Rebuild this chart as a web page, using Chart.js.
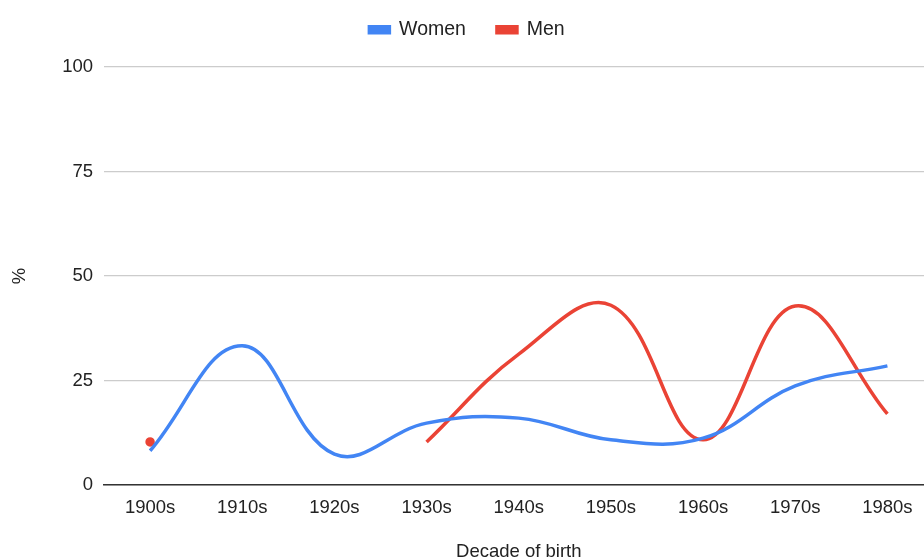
<!DOCTYPE html>
<html>
<head>
<meta charset="utf-8">
<script src="https://cdn.jsdelivr.net/npm/chart.js@4"></script>
<style>
  body { margin: 0; overflow: hidden; background: #fff; }
  #wrap { width: 940px; height: 578px; }
</style>
</head>
<body>
<div id="wrap"><canvas id="chart"></canvas></div>
<script>
// decades of birth
const decades = ["1900s", "1910s", "1920s", "1930s", "1940s", "1950s", "1960s", "1970s", "1980s"];
// share in %
const women = [8.2, 33.3, 7.4, 14.8, 16, 10.8, 11.2, 23.7, 28.5];
const men = [10.3, null, null, 10.3, 31.3, 43, 10.8, 42.8, 17];
const yTicks = [0, 25, 50, 75, 100];

const FONT = "'Liberation Sans', Arial, sans-serif";

// show a dot only where a point has no neighbours to join
function lonePoint(arr) {
  return arr.map((v, i) => (v !== null && arr[i - 1] == null && arr[i + 1] == null) ? 3 : 0);
}

// fixed legend height so the plot starts where the original does
const legendHeight = {
  id: "legendHeight",
  beforeLayout(chart) {
    const lg = chart.legend;
    if (lg && !lg._fixed) {
      const fit = lg.fit;
      lg.fit = function () { fit.call(this); this.height = 78; };
      lg._fixed = true;
    }
  }
};

const ctx = document.getElementById("chart").getContext("2d");
new Chart(ctx, {
  type: "line",
  data: {
    labels: decades,
    datasets: [
      {
        label: "Women",
        data: women,
        borderColor: "#4285F4",
        backgroundColor: "#4285F4",
        borderWidth: 3.5,
        tension: 0.4,
        pointRadius: lonePoint(women),
        pointHoverRadius: 0
      },
      {
        label: "Men",
        data: men,
        borderColor: "#EA4335",
        backgroundColor: "#EA4335",
        borderWidth: 3.5,
        tension: 0.4,
        pointRadius: lonePoint(men),
        pointHoverRadius: 0
      }
    ]
  },
  options: {
    responsive: true,
    maintainAspectRatio: false,
    animation: false,
    layout: { padding: { top: -11, right: 6 } },
    plugins: {
      tooltip: { enabled: false },
      legend: {
        position: "top",
        labels: {
          boxWidth: 20,
          boxHeight: 6,
          padding: 31,
          color: "#222",
          font: { family: FONT, size: 19.5 }
        }
      }
    },
    scales: {
      x: {
        offset: true,
        grid: { display: false },
        border: { display: true, color: "#333", width: 1.5 },
        ticks: { color: "#222", padding: 4, font: { family: FONT, size: 18.5 } },
        title: { display: true, text: "Decade of birth", color: "#222", padding: { top: 4, bottom: 15 }, font: { family: FONT, size: 18.5 } },
        afterFit: s => { s.height = 93; }
      },
      y: {
        min: 0,
        max: 100,
        afterBuildTicks: s => { s.ticks = yTicks.map(v => ({ value: v })); },
        grid: { color: "#ccc", lineWidth: 1.2, drawTicks: false },
        border: { display: false },
        ticks: { color: "#222", padding: 11, font: { family: FONT, size: 18.5 } },
        title: { display: true, text: "%", color: "#222", padding: { top: 9, bottom: 0 }, font: { family: FONT, size: 18.5 } },
        afterFit: s => { s.width = 104; }
      }
    }
  },
  plugins: [legendHeight]
});
</script>
</body>
</html>
